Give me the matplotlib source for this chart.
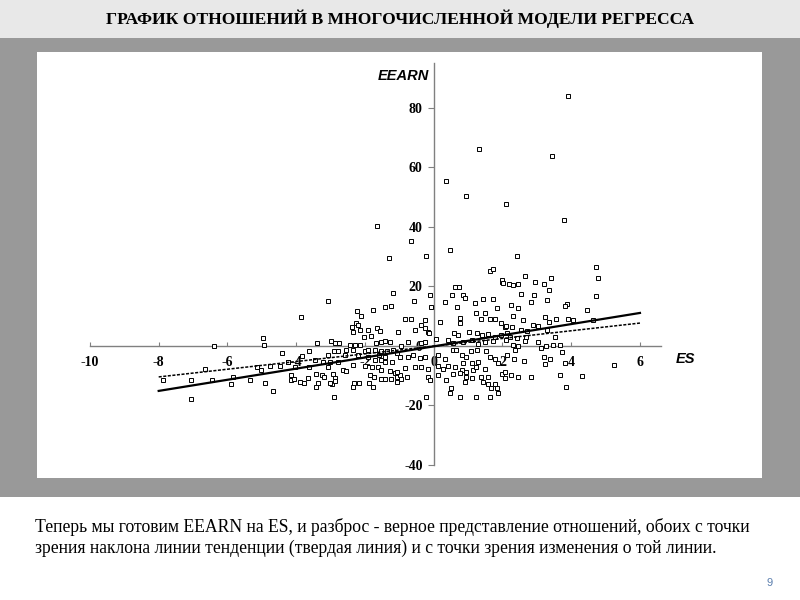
import matplotlib
matplotlib.use("Agg")
import matplotlib.pyplot as plt
from matplotlib.patches import Rectangle

# ---- data ----
es = [
    -6.40, -4.98, -4.94, -4.40, -4.24, -6.65, -5.15, -5.01, -4.77, -4.48, -7.87, -7.06, -6.44, -5.83, -5.91,
    -5.35, -4.90, -4.67, -7.06, -4.14, -3.90, -2.97,
    -1.18, -3.07, -3.87, -2.22, -2.12, -1.76, -1.42, -1.25, -2.25, -2.20, -2.39, -2.35, -2.15, -1.91, -1.64,
    -1.57, -1.04, -2.03, -1.83, -2.99, -2.88, -2.76, -3.40, -1.67, -1.54, -1.42, -1.28, -2.44, -2.30, -2.15,
    -3.62, -2.91, -2.78, -2.54, -2.35, -2.01, -1.91, -1.72, -1.52, -1.37, -1.18, -3.07, -2.59, -2.20, -1.91,
    -1.60, -1.42, -1.06, -4.24, -3.83, -3.46, -3.22, -3.02, -2.78, -1.72, -1.52, -1.42, -1.21, -4.04, -3.62,
    -3.07, -2.64, -2.35, -2.01, -1.79, -1.62, -1.52, -1.28, -1.13, -4.14, -4.06, -3.65, -3.41, -3.26, -3.19,
    -2.93, -2.88, -2.54, -1.86, -1.74, -1.52, -1.42, -1.23, -1.08, -3.77, -3.41, -3.36, -3.02, -2.88, -2.32,
    -2.18, -1.89, -1.76, -2.35, -2.90,
    0.63, 0.74, 1.99, -0.12, -0.57, 0.53, 0.85, 0.92, 1.19, 0.32, 0.69, -0.07, 1.43, 1.73, 1.24, 1.48, 1.77,
    1.63, 1.37, 1.97, 2.06, -0.84, -0.67, -0.38, -0.26, -0.26, -0.18, -0.15, 0.17, 0.76, 0.76, -0.55, 0.59,
    0.71, 1.02, 1.27, 1.40, 1.58, 1.77, 1.95, 2.14, 0.42, 0.56, 0.85, 1.10, 1.29, 1.48, 1.73, 0.08, -0.36,
    -0.24, -0.75, -0.94, -0.99, -0.75, -0.60, -0.41, -0.26, 0.12, 0.32, 0.56, 0.66, 0.81, 0.95, 1.08, 1.27,
    1.53, 1.63, 1.29, 1.10, 0.85, 1.77, 1.87, -0.84, -0.55, -0.36, -0.18, 0.12, 0.27, 0.42, 0.61, 0.81, 0.95,
    1.14, 1.24, 1.48, 1.99, 2.06, -0.99, -0.79, -0.17, 0.12, 0.56, 0.76, 0.95, 1.10, 1.39, 1.58, -0.12, 0.35,
    0.90, 1.43, 1.58, 1.77, 0.49, 1.68, 1.85, 0.47, 0.76, 1.24, 1.63, -0.21, 1.87, -1.06, -0.94, -1.06,
    2.43, 4.73, 4.78, 2.67, 3.42, 2.18, 2.31, 2.45, 2.96, 3.21, 2.53, 2.92, 3.35, 2.82, 3.31, 4.73, 2.24,
    2.45, 3.89, 3.81, 4.47, 2.31, 2.60, 3.23, 3.57, 3.34, 3.91, 4.05, 2.89, 3.03, 2.11, 2.28, 2.53, 2.72,
    3.31, 2.69, 3.52, 2.21, 2.43, 2.65, 3.03, 2.11, 2.31, 2.45, 3.28, 3.47, 3.66, 3.11, 2.36, 2.14, 2.33,
    2.62, 3.21, 3.37, 3.73, 3.23, 3.83, 5.24, 2.24, 2.45, 2.82, 3.66, 4.31, 3.84, 2.06,
    3.90, 1.32, 3.44, 0.37, 0.94, 2.11, 3.78, -1.64, -0.67, 0.47, -0.23, -1.30,
    1.63, 1.73, 2.00, 2.03, 1.84, 4.64,
]
eearn = [
    0.0, 2.8, 0.3, -2.5, -5.5, -7.6, -7.2, -8.1, -6.7, -6.7, -11.4, -11.5, -11.4, -10.3, -12.8,
    -11.4, -12.5, -15.2, -17.8, -11.4, -12.0, -12.8,
    17.7, 15.2, 9.8, 11.9, 10.2, 12.1, 13.2, 13.4, 7.8, 7.2, 6.5, 4.8, 5.4, 5.4, 5.9,
    5.1, 4.8, 2.9, 3.4, 1.7, 0.9, 1.1, 0.9, 0.9, 1.3, 1.8, 1.4, 0.2, 0.2, 0.2,
    -1.6, -1.8, -1.8, -1.3, -1.3, -1.8, -1.3, -1.3, -1.6, -1.8, -1.3, -2.9, -2.9, -3.0, -3.6,
    -3.1, -3.6, -2.3, -5.3, -3.4, -4.7, -5.4, -5.4, -5.4, -4.7, -4.7, -5.4, -5.4, -7.0, -7.2,
    -7.2, -8.1, -6.4, -6.7, -7.2, -7.2, -8.1, -8.3, -9.0, -9.7, -11.2, -10.9, -9.4, -9.7, -10.3,
    -9.4, -10.9, -8.3, -9.7, -10.3, -11.2, -11.2, -11.0, -10.5, -12.5, -13.9, -12.5, -12.5, -11.8, -12.5,
    -12.5, -12.5, -13.7, -13.9, -17.2,
    19.9, 19.9, 21.6, 17.1, 15.2, 17.1, 17.1, 16.0, 14.4, 14.8, 13.0, 13.2, 15.7, 15.7, 11.0, 11.2, 9.0,
    9.0, 9.0, 7.6, 6.5, 9.0, 9.0, 7.1, 8.7, 5.9, 4.8, 4.3, 8.2, 9.3, 7.6, 5.4, 4.5,
    3.7, 4.8, 4.3, 3.7, 4.0, 3.1, 3.7, 4.3, 2.0, 0.9, 1.4, 2.0, 0.7, 1.4, 1.8, 2.3, 1.1,
    1.4, 1.4, 0.0, -3.6, -3.8, -3.0, -4.1, -3.8, -3.0, -4.5, -1.3, -1.3, -3.0, -3.8, -1.6, -1.3,
    -1.6, -3.6, -5.3, -5.8, -5.8, -4.5, -5.8, -7.5, -7.0, -7.2, -7.8, -6.7, -7.8, -6.7, -7.2, -8.1, -8.6,
    -8.1, -7.2, -7.8, -9.4, -10.9, -9.7, -10.3, -10.3, -9.7, -9.4, -9.2, -10.3, -10.9, -10.3, -10.3, -11.4, -11.4,
    -12.0, -12.0, -12.8, -12.8, -14.2, -14.2, -14.2, -15.7, -17.0, -17.0, -17.0, -17.2, -15.9, -8.6, -11.2, -12.0,
    30.3, 26.5, 23.0, 23.5, 23.0, 20.8, 20.5, 20.7, 21.6, 20.7, 17.5, 17.1, 18.8, 14.9, 15.5, 16.8, 13.8,
    12.7, 14.1, 13.4, 12.1, 10.1, 8.7, 9.8, 9.0, 8.2, 9.2, 8.7, 7.1, 6.7, 6.7, 6.3, 5.4, 5.1,
    5.4, 3.1, 2.9, 3.1, 2.6, 1.8, 1.4, 2.0, 0.3, 0.0, 0.0, 0.3, 0.3, -0.8, -1.3, -3.0, -4.5,
    -5.1, -3.8, -4.5, -1.9, -6.1, -5.8, -6.4, -9.7, -10.5, -10.5, -9.7, -10.1, -13.9, -8.6,
    84.1, 66.1, 63.8, 55.6, 50.4, 47.6, 42.3, 40.4, 35.4, 32.4, 30.3, 29.5,
    25.3, 25.8, 22.2, 21.1, 12.9, 8.6,
]

# trend lines (end points)
trend_x = [-8, 6]
trend_solid = [-15.1, 11.1]
trend_dotted = [-10.4, 7.7]

x_ticks = [-10, -8, -6, -4, -2, 0, 2, 4, 6]
y_ticks = [-40, -20, 0, 20, 40, 60, 80]

title = "ГРАФИК ОТНОШЕНИЙ В МНОГОЧИСЛЕННОЙ МОДЕЛИ РЕГРЕССА"
caption1 = "Теперь мы готовим EEARN на ES, и разброс - верное представление отношений, обоих с точки"
caption2 = "зрения наклона линии тенденции (твердая линия) и с точки зрения изменения о той линии."

W, H = 800, 600
fig = plt.figure(figsize=(8, 6), dpi=100)
fig.patch.set_facecolor("white")

# slide background
fig.patches.append(Rectangle((0, 1 - 38 / H), 1, 38 / H, transform=fig.transFigure,
                             facecolor="#e8e8e8", edgecolor="none", zorder=-10))
fig.patches.append(Rectangle((0, 1 - 497 / H), 1, (497 - 38) / H, transform=fig.transFigure,
                             facecolor="#999999", edgecolor="none", zorder=-10))

fig.text(0.5, 1 - 19 / H, title, ha="center", va="center", fontsize=12.6,
         fontweight="bold", family="Liberation Serif", color="black")

# chart panel
ax = fig.add_axes([37 / W, 1 - 478 / H, (762 - 37) / W, (478 - 52) / H])
ax.set_zorder(5)
ax.set_facecolor("white")
ax.set_xlim(-11.54, 9.55)
ax.set_ylim(-44.37, 98.8)

for s in ["top", "right"]:
    ax.spines[s].set_visible(False)
for s in ["left", "bottom"]:
    ax.spines[s].set_position(("data", 0))
    ax.spines[s].set_color("#808080")
    ax.spines[s].set_linewidth(1.0)
ax.spines["left"].set_bounds(-40, 95)
ax.spines["bottom"].set_bounds(-10, 6.6)

ax.set_xticks(x_ticks)
ax.set_yticks(y_ticks)
ax.set_xticklabels([str(v) for v in x_ticks])
ax.set_yticklabels([str(v) for v in y_ticks])
ax.tick_params(axis="x", direction="in", length=3, color="#808080", pad=7)
ax.tick_params(axis="y", direction="out", length=4, color="#808080", pad=4)
for lab in ax.get_xticklabels() + ax.get_yticklabels():
    lab.set_family("Liberation Serif")
    lab.set_fontweight("bold")
    lab.set_fontsize(10)

ax.plot(es, eearn, linestyle="none", marker="s", markersize=2.2, markerfacecolor="white",
        markeredgecolor="black", markeredgewidth=0.7, zorder=3)
ax.plot(trend_x, trend_solid, color="black", linewidth=1.6, zorder=4)
ax.plot(trend_x, trend_dotted, color="black", linewidth=1.1, linestyle=(0, (2.0, 1.0)), zorder=4)

ax.text(-0.12, 90.9, "EEARN", ha="right", va="center", fontsize=10.5, fontweight="bold",
        fontstyle="italic", family="Liberation Sans")
ax.text(7.04, -4.4, "ES", ha="left", va="center", fontsize=10.5, fontweight="bold",
        fontstyle="italic", family="Liberation Sans")

# caption
fig.text(35 / W, 1 - 527 / H, caption1, ha="left", va="center", fontsize=12.7,
         family="Liberation Serif", color="black")
fig.text(35 / W, 1 - 548 / H, caption2, ha="left", va="center", fontsize=12.7,
         family="Liberation Serif", color="black")
fig.text(770 / W, 1 - 583 / H, "9", ha="center", va="center", fontsize=8,
         family="Liberation Sans", color="#5b7fae")

fig.savefig("out.png", dpi=100)
